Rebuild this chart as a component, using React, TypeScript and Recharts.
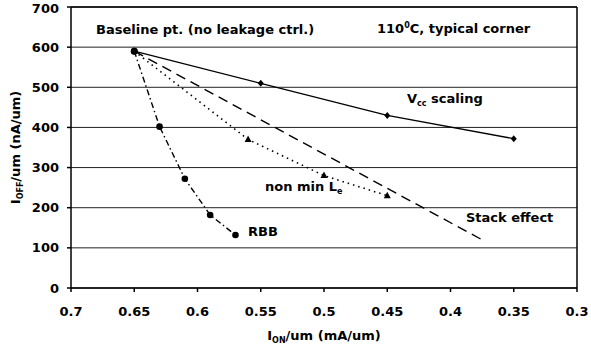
import { LineChart, Line, XAxis, YAxis, CartesianGrid, ReferenceLine, Label } from 'recharts';

const FONT = '"DejaVu Sans", sans-serif';

// I_ON/um (mA/um) on x, I_OFF/um (nA/um) on y
const vccX = [0.65, 0.55, 0.45, 0.35];
const vccY = [590, 510, 430, 372];
const stackX = [0.65, 0.375];
const stackY = [590, 120];
const leX = [0.65, 0.56, 0.5, 0.45];
const leY = [590, 370, 280, 230];
const rbbX = [0.65, 0.63, 0.61, 0.59, 0.57];
const rbbY = [590, 402, 272, 182, 132];

const xTicks = [0.7, 0.65, 0.6, 0.55, 0.5, 0.45, 0.4, 0.35, 0.3];
const yTicks = [0, 100, 200, 300, 400, 500, 600, 700];

const toPts = (xs: number[], ys: number[]) => xs.map((x, i) => ({ x, y: ys[i] }));

const vccData = toPts(vccX, vccY);
const stackData = toPts(stackX, stackY);
const leData = toPts(leX, leY);
const rbbData = toPts(rbbX, rbbY);

const Diamond = (p: any) => {
  const { cx, cy, index } = p;
  if (index === 0) return <circle key={index} cx={cx} cy={cy} r={3.5} fill="#000" />;
  return <path key={index} d={`M${cx},${cy - 3.5}L${cx + 3},${cy}L${cx},${cy + 3.5}L${cx - 3},${cy}Z`} fill="#000" />;
};

const Tri = (p: any) => {
  const { cx, cy, index } = p;
  if (index === 0) return <g key={index} />;
  return <path key={index} d={`M${cx},${cy - 4}L${cx + 3.5},${cy + 2.5}L${cx - 3.5},${cy + 2.5}Z`} fill="#000" />;
};

const Dot = (p: any) => {
  const { cx, cy, index } = p;
  return <circle key={index} cx={cx} cy={cy} r={3.3} fill="#000" />;
};

const XLab = (p: any) => {
  const { viewBox } = p;
  const cx = viewBox.x + viewBox.width / 2;
  return (
    <text x={cx} y={340} textAnchor="middle" fontFamily={FONT} fontWeight="bold" fontSize={13} fill="#000">
      I<tspan fontSize={8} dy={3}>ON</tspan>
      <tspan dy={-3}>/um (mA/um)</tspan>
    </text>
  );
};

const YLab = (p: any) => {
  const { viewBox } = p;
  const cy = viewBox.y + viewBox.height / 2;
  return (
    <text
      x={0}
      y={0}
      transform={`translate(20,${cy}) rotate(-90)`}
      textAnchor="middle"
      fontFamily={FONT}
      fontWeight="bold"
      fontSize={13}
      fill="#000"
    >
      I<tspan fontSize={8} dy={3}>OFF</tspan>
      <tspan dy={-3}>/um (nA/um)</tspan>
    </text>
  );
};

const txt = { fontFamily: FONT, fontWeight: 'bold' as const, fontSize: 13, fill: '#000' };

export default function App() {
  return (
    <div style={{ position: 'absolute', left: 0, top: 0, width: 591, height: 351, background: '#fff' }}>
      <LineChart width={591} height={351} margin={{ top: 7, right: 14, left: 0, bottom: 0 }}>
        <CartesianGrid vertical={false} stroke="#222" strokeWidth={1} />
        <XAxis
          type="number"
          dataKey="x"
          domain={[0.3, 0.7]}
          reversed
          ticks={xTicks}
          tickFormatter={(v: number) => String(v)}
          height={63}
          tickSize={4}
          tickMargin={15}
          stroke="#000"
          strokeWidth={1.5}
          tick={{ fill: '#000', fontFamily: FONT, fontWeight: 'bold', fontSize: 13 }}
        >
          <Label content={<XLab />} />
        </XAxis>
        <YAxis
          type="number"
          dataKey="y"
          domain={[0, 700]}
          ticks={yTicks}
          width={71}
          tickSize={4}
          tickMargin={8}
          stroke="#000"
          strokeWidth={1.5}
          tick={{ fill: '#000', fontFamily: FONT, fontWeight: 'bold', fontSize: 13 }}
        >
          <Label content={<YLab />} />
        </YAxis>
        <ReferenceLine x={0.3} stroke="#000" strokeWidth={1.5} />
        <ReferenceLine y={700} stroke="#000" strokeWidth={1.5} />
        <Line data={stackData} dataKey="y" stroke="#000" strokeWidth={1.4} strokeDasharray="10 6" dot={false} isAnimationActive={false} />
        <Line data={leData} dataKey="y" stroke="#000" strokeWidth={1.6} strokeDasharray="1.5 4" dot={Tri} isAnimationActive={false} />
        <Line data={rbbData} dataKey="y" stroke="#000" strokeWidth={1.4} strokeDasharray="6 3 1.5 3" dot={Dot} isAnimationActive={false} />
        <Line data={vccData} dataKey="y" stroke="#000" strokeWidth={1.3} dot={Diamond} isAnimationActive={false} />
      </LineChart>
      <svg width={591} height={351} style={{ position: 'absolute', left: 0, top: 0, pointerEvents: 'none' }}>
        <text x={96} y={33.5} {...txt}>Baseline pt. (no leakage ctrl.)</text>
        <text x={377} y={33} {...txt}>
          110<tspan fontSize={8} dy={-5}>0</tspan>
          <tspan dy={5}>C, typical corner</tspan>
        </text>
        <text x={407} y={103} {...txt}>
          V<tspan fontSize={8} dy={3}>cc</tspan>
          <tspan dy={-3}> scaling</tspan>
        </text>
        <text x={265} y={191} {...txt}>
          non min L<tspan fontSize={8} dy={3}>e</tspan>
        </text>
        <text x={466} y={222} {...txt}>Stack effect</text>
        <text x={248} y={236} {...txt}>RBB</text>
      </svg>
    </div>
  );
}
